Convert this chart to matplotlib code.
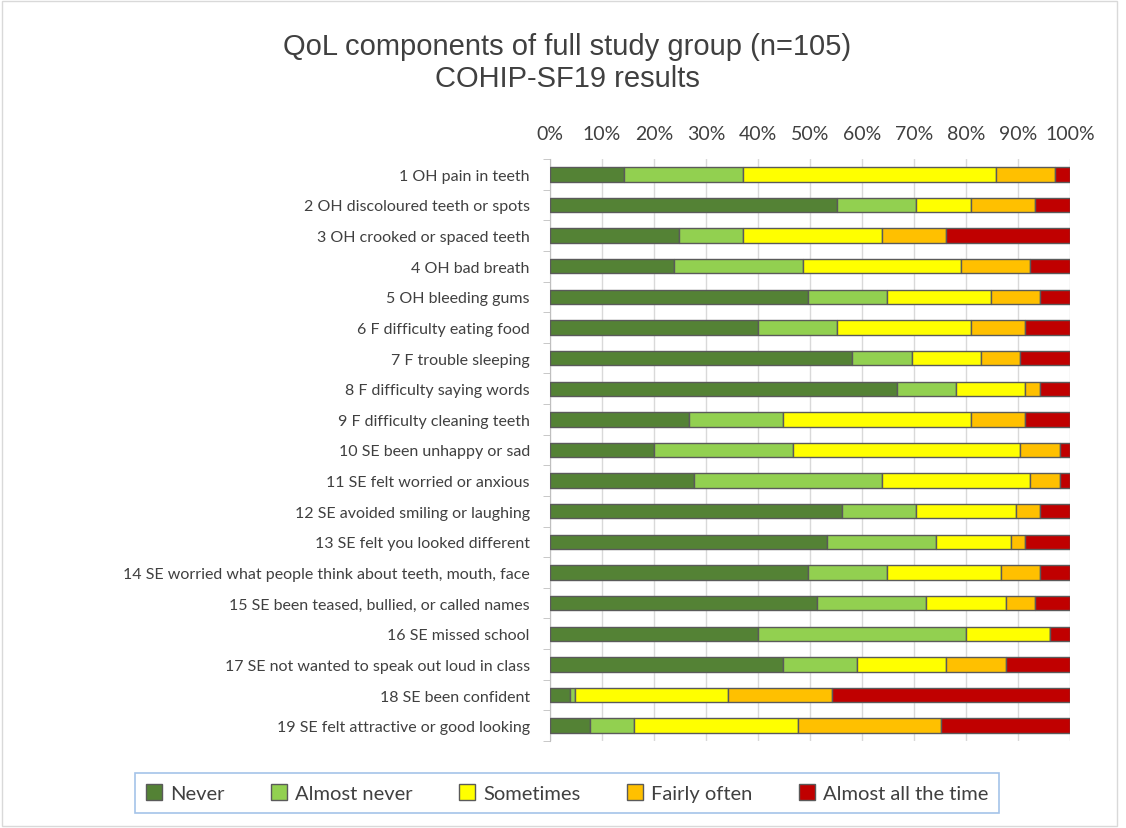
import matplotlib.pyplot as plt
import numpy as np
from matplotlib.patches import Rectangle

plt.rcParams['font.family'] = ['Lato', 'DejaVu Sans']

# Items of the questionnaire, top to bottom
items = [
    "1 OH pain in teeth",
    "2 OH discoloured teeth or spots",
    "3 OH crooked or spaced teeth",
    "4 OH bad breath",
    "5 OH bleeding gums",
    "6 F difficulty eating food",
    "7 F trouble sleeping",
    "8 F difficulty saying words",
    "9 F difficulty cleaning teeth",
    "10 SE been unhappy or sad",
    "11 SE felt worried or anxious",
    "12 SE avoided smiling or laughing",
    "13 SE felt you looked different",
    "14 SE worried what people think about teeth, mouth, face",
    "15 SE been teased, bullied, or called names",
    "16 SE missed school",
    "17 SE not wanted to speak out loud in class",
    "18 SE been confident",
    "19 SE felt attractive or good looking",
]

n = 105
# answer counts per item
never        = [15, 58, 26, 25, 52, 42, 61, 70, 28, 21, 29, 59, 56, 52, 54, 42, 47, 4, 8]
almost_never = [24, 16, 13, 26, 16, 16, 12, 12, 19, 28, 38, 15, 22, 16, 22, 42, 15, 1, 9]
sometimes    = [51, 11, 28, 32, 21, 27, 14, 14, 38, 46, 30, 20, 15, 23, 16, 17, 18, 31, 33]
fairly_often = [12, 13, 13, 14, 10, 11, 8, 3, 11, 8, 6, 5, 3, 8, 6, 0, 12, 21, 29]
almost_all   = [3, 7, 25, 8, 6, 9, 10, 6, 9, 2, 2, 6, 9, 6, 7, 4, 13, 48, 26]

series = ["Never", "Almost never", "Sometimes", "Fairly often", "Almost all the time"]
colors = ["#548235", "#92D050", "#FFFF00", "#FFC000", "#C00000"]

data = np.array([never, almost_never, sometimes, fairly_often, almost_all]) / n

fig = plt.figure(figsize=(11.26, 8.29), dpi=100)
ax = fig.add_axes([550/1126, 1-742/829, 520/1126, 582/829])

y = np.arange(len(items))
left = np.zeros(len(items))
for vals, name, col in zip(data, series, colors):
    ax.barh(y, vals, left=left, height=0.47, color=col, edgecolor="#5a5a5a",
            linewidth=1.0, label=name, zorder=3)
    left += vals

ax.set_ylim(len(items) - 0.5, -0.5)
ax.set_xlim(0, 1)
ax.set_xticks(np.arange(0, 1.01, 0.1))
ax.set_xticklabels([f"{int(round(v*100))}%" for v in np.arange(0, 1.01, 0.1)])
ax.xaxis.tick_top()
ax.tick_params(axis='x', length=0, pad=12, labelsize=14, colors="#404040")
ax.set_yticks(y)
ax.set_yticklabels(items, fontsize=11.5, color="#404040")
ax.set_yticks(np.arange(-0.5, len(items), 1), minor=True)
ax.tick_params(axis='y', which='major', length=0, pad=14.5)
ax.tick_params(axis='y', which='minor', length=5, color="#bfbfbf")
ax.grid(axis='x', color="#d9d9d9", linewidth=1, zorder=0)
for s in ["top", "right", "bottom"]:
    ax.spines[s].set_visible(False)
ax.spines["left"].set_color("#bfbfbf")

fig.text(567/1126, 1-63/829, "QoL components of full study group (n=105)\nCOHIP-SF19 results",
         ha="center", va="center", fontsize=21, color="#404040", linespacing=1.15,
         family=['Liberation Sans', 'DejaVu Sans'])

leg = fig.legend(loc="center", bbox_to_anchor=(567/1126, 1-794/829), ncol=5,
                 fontsize=14.5, frameon=True, fancybox=False, handlelength=0.8,
                 handleheight=0.8, columnspacing=2.3, handletextpad=0.4,
                 borderpad=0.55)
leg.get_frame().set_edgecolor("#8eb4e3")
leg.get_frame().set_linewidth(1.2)
for t in leg.get_texts():
    t.set_color("#404040")

fig.patches.append(Rectangle((0.002, 0.002), 0.99, 0.995, transform=fig.transFigure,
                             fill=False, edgecolor="#d9d9d9", linewidth=1))

fig.savefig("out.png", dpi=100)
